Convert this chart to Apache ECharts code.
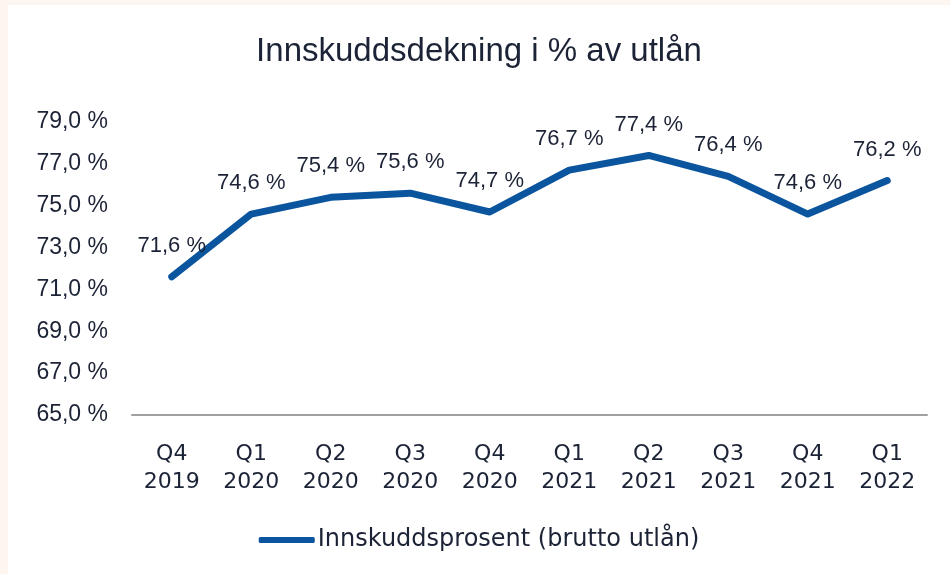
<!DOCTYPE html>
<html>
<head>
<meta charset="utf-8">
<script src="https://cdn.jsdelivr.net/npm/echarts@6/dist/echarts.min.js"></script>
<style>
  html, body { margin: 0; padding: 0; background: #fdf6f0; }
  #chart { position: absolute; left: 8px; top: 5px; width: 942px; height: 569px; background: #fff; }
</style>
</head>
<body>
<div id="chart"></div>
<script>
const quarters = ['Q4\n2019', 'Q1\n2020', 'Q2\n2020', 'Q3\n2020', 'Q4\n2020', 'Q1\n2021', 'Q2\n2021', 'Q3\n2021', 'Q4\n2021', 'Q1\n2022']
const depositPct = [71.6, 74.6, 75.4, 75.6, 74.7, 76.7, 77.4, 76.4, 74.6, 76.2]
const seriesName = 'Innskuddsprosent (brutto utlån)'

const textColor = '#1c2336'
const lineColor = '#0b559f'

const fmt = (v) => v.toFixed(1).replace('.', ',') + ' %'

const chart = echarts.init(document.getElementById('chart'))

chart.setOption({
  animation: false,
  title: {
    text: 'Innskuddsdekning i % av utlån',
    left: 'center',
    top: 25,
    textStyle: {
      fontFamily: 'Liberation Sans',
      fontWeight: 'normal',
      fontSize: 33,
      color: textColor
    }
  },
  grid: {
    left: 124,
    right: 23,
    top: 117,
    bottom: 159
  },
  legend: {
    top: 518,
    left: 'center',
    icon: 'roundRect',
    itemWidth: 56,
    itemHeight: 6,
    itemGap: 3,
    textStyle: {
      fontFamily: 'DejaVu Sans',
      fontSize: 24,
      color: textColor,
      padding: [0, 0, 0, -2]
    }
  },
  xAxis: {
    type: 'category',
    data: quarters,
    axisLine: { lineStyle: { color: '#a0a0a0', width: 2 } },
    axisTick: { show: false },
    axisLabel: {
      margin: 25,
      fontFamily: 'DejaVu Sans',
      fontSize: 22,
      lineHeight: 28,
      color: textColor
    }
  },
  yAxis: {
    type: 'value',
    min: 65,
    max: 79,
    interval: 2,
    axisLine: { show: false },
    axisTick: { show: false },
    splitLine: { show: false },
    axisLabel: {
      margin: 24,
      fontFamily: 'Liberation Sans',
      fontSize: 23,
      color: textColor,
      formatter: fmt
    }
  },
  series: [
    {
      name: seriesName,
      type: 'line',
      data: depositPct,
      symbol: 'circle',
      symbolSize: 0,
      showSymbol: true,
      lineStyle: { color: lineColor, width: 7, cap: 'round', join: 'round' },
      itemStyle: { color: lineColor },
      label: {
        show: true,
        position: 'top',
        distance: 20,
        fontFamily: 'Liberation Sans',
        fontSize: 22,
        color: textColor,
        formatter: (p) => fmt(p.value)
      }
    }
  ]
})
</script>
</body>
</html>
